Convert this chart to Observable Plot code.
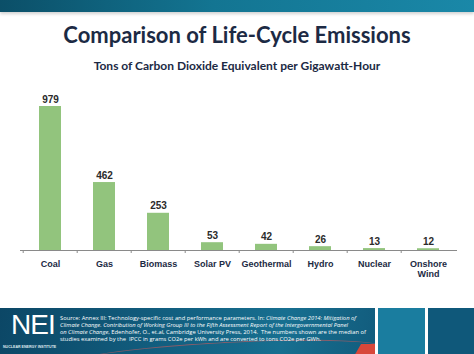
<!DOCTYPE html>
<html>
<head>
<meta charset="utf-8">
<script src="https://cdn.jsdelivr.net/npm/d3@7"></script>
<script src="https://cdn.jsdelivr.net/npm/@observablehq/plot@0.6"></script>
<style>
  html, body { margin: 0; padding: 0; background: #fff; }
  #page { position: relative; width: 474px; height: 354px; overflow: hidden; background: #fff; }
  #banner { position: absolute; left: 0; top: 0; width: 474px; height: 12px;
    background: linear-gradient(90deg, #0b4f68, #137592 45%, #1a88a8);
    box-shadow: 0 2px 3px rgba(0,0,0,0.18); }
  #title { position: absolute; left: 0; top: 22px; width: 474px; text-align: center;
    font-family: Lato, sans-serif; font-weight: 700; font-size: 22px; color: #1c2a44; line-height: 26px; }
  #subtitle { position: absolute; left: 0; top: 59px; width: 474px; text-align: center;
    font-family: Lato, sans-serif; font-weight: 700; font-size: 12px; color: #1c2a44; line-height: 14px; }
  #chart { position: absolute; left: 0; top: 75px; }
  #footer { position: absolute; left: 0; top: 308px; width: 474px; height: 46px; }
  #fmain { position: absolute; left: 0; top: 0; width: 375px; height: 46px;
    background: linear-gradient(100deg, #0c4766 0%, #125f80 45%, #176f90 75%, #125c7d 100%); overflow: hidden; }
  #fp2 { position: absolute; left: 378px; top: 0; width: 47px; height: 46px; background: #1a7d9f; }
  #fp3 { position: absolute; left: 428px; top: 0; width: 46px; height: 46px; background: #0f587a; }
  #swoosh { position: absolute; left: 60px; top: 34px; width: 330px; height: 30px; border-radius: 50%;
    border-top: 1.5px solid rgba(210,90,90,0.6); transform: rotate(-3deg); }
  #red { position: absolute; left: 357px; top: 36px; width: 22px; height: 14px; background: #d8473a; transform: skewX(-30deg); }
  #logo { position: absolute; left: 11px; top: 2px; font-family: "Liberation Sans", Arial, sans-serif;
    font-size: 28px; color: #fff; letter-spacing: -1px; line-height: 30px; }
  #inst { position: absolute; left: 3px; top: 37px; font-family: "Liberation Sans", Arial, sans-serif;
    font-weight: 700; font-size: 3.6px; color: #dfe9ef; white-space: nowrap; }
  #source { position: absolute; left: 60px; top: 7px; font-family: "Open Sans", sans-serif;
    font-size: 5.8px; color: #fff; line-height: 7px; }
  #source div { white-space: nowrap; }
  #source i { font-style: italic; }
</style>
</head>
<body>
<div id="page">
  <div id="banner"></div>
  <div id="title">Comparison of Life-Cycle Emissions</div>
  <div id="subtitle">Tons of Carbon Dioxide Equivalent per Gigawatt-Hour</div>
  <div id="chart"></div>
  <div id="footer">
    <div id="fmain">
      <div id="swoosh"></div>
      <div id="red"></div>
      <div id="logo">NEI</div>
      <div id="inst">NUCLEAR ENERGY INSTITUTE</div>
      <div id="source">
        <div>Source: Annex III: Technology-specific cost and performance parameters. In: <i>Climate Change 2014: Mitigation of</i></div>
        <div><i>Climate Change. Contribution of Working Group III to the Fifth Assessment Report of the Intergovernmental Panel</i></div>
        <div><i>on Climate Change</i>, Edenhofer, O., et.al, Cambridge University Press, 2014.&nbsp; The numbers shown are the median of</div>
        <div>studies examined by the&nbsp; IPCC in grams CO2e per kWh and are converted to tons CO2e per GWh.</div>
      </div>
    </div>
    <div id="fp2"></div>
    <div id="fp3"></div>
  </div>
</div>
<script>
const categories = ["Coal", "Gas", "Biomass", "Solar PV", "Geothermal", "Hydro", "Nuclear", "Onshore\nWind"];
const values = [979, 462, 253, 53, 42, 26, 13, 12];

const data = categories.map((c, i) => ({category: c, value: values[i]}));
const W = 474, mL = 20, mR = 17;
const step = (W - mL - mR) / categories.length;

const chart = Plot.plot({
  width: W,
  height: 205,
  marginLeft: mL,
  marginRight: mR,
  marginTop: 31,
  marginBottom: 30,
  x: {domain: categories, paddingInner: 0.6, paddingOuter: 0.3, axis: null},
  y: {domain: [0, 979], axis: null},
  marks: [
    Plot.barY(data, {x: "category", y: "value", fill: "#92c47d"}),
    Plot.ruleY([0], {stroke: "#8a8a8a", strokeWidth: 1}),
    Plot.ruleX(categories, {x: d => d, dx: -step / 2, y1: 0, y2: 0, insetBottom: -3, stroke: "#8a8a8a"}),
    Plot.text(data, {x: "category", y: "value", text: d => String(d.value), dy: -4, lineAnchor: "bottom",
      fontSize: 10, fontWeight: "bold", fill: "#2b2b2b", fontFamily: "Liberation Sans, Arial, sans-serif"}),
    Plot.text(data, {x: "category", y: d => 0, text: "category", dy: 9, lineAnchor: "top", lineHeight: 1.15,
      fontSize: 9, fontWeight: "bold", fill: "#1c2a44", fontFamily: "Liberation Sans, Arial, sans-serif"})
  ]
});
document.getElementById("chart").appendChild(chart);
</script>
</body>
</html>
